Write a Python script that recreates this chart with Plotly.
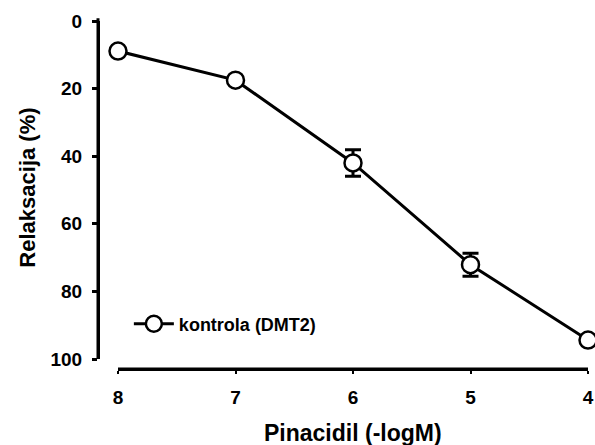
import plotly.graph_objects as go

# Data
concentration = [8, 7, 6, 5, 4]              # Pinacidil (-logM)
relaxation = [8.9, 17.5, 42.0, 72.1, 94.4]   # Relaksacija (%)
sem = [0.5, 0.8, 3.9, 3.4, 0.8]
x_ticks = [8, 7, 6, 5, 4]
y_ticks = [0, 20, 40, 60, 80, 100]
series_name = "kontrola (DMT2)"

FONT = "Arial, Liberation Sans, sans-serif"
X_DOM0 = 20 / 490
Y_DOM0 = 10 / 348

fig = go.Figure()
fig.add_trace(go.Scatter(
    x=concentration, y=relaxation, name=series_name,
    mode="lines+markers",
    line=dict(color="black", width=3),
    marker=dict(symbol="circle", size=17, color="white",
                line=dict(color="black", width=2.5)),
    error_y=dict(type="data", array=sem, visible=True,
                 color="black", thickness=3, width=8),
    cliponaxis=False,
))

fig.update_layout(
    template="none",
    width=595, height=445,
    margin=dict(l=98, r=7, t=21, b=76, autoexpand=False),
    paper_bgcolor="white", plot_bgcolor="white",
    font=dict(family=FONT, color="black"),
    showlegend=True,
    legend=dict(x=0.063, y=0.129, xanchor="left", yanchor="middle",
                bgcolor="rgba(0,0,0,0)", itemwidth=40,
                font=dict(family=FONT, size=18, color="black", weight="bold")),
    xaxis=dict(domain=[X_DOM0, 1], range=[8, 4], anchor="free", position=0,
               tickvals=x_ticks, ticktext=[str(v) for v in x_ticks],
               showline=True, linecolor="black", linewidth=3,
               ticks="outside", ticklen=3, tickwidth=2, tickcolor="black",
               showgrid=False, zeroline=False, automargin=False,
               ticklabelstandoff=7,
               tickfont=dict(family=FONT, size=19, color="black", weight="bold")),
    yaxis=dict(domain=[Y_DOM0, 1], range=[100, 0], anchor="free", position=0,
               tickvals=y_ticks,
               showline=True, linecolor="black", linewidth=3,
               ticks="outside", ticklen=5, tickwidth=2.5, tickcolor="black",
               showgrid=False, zeroline=False, automargin=False,
               ticklabelstandoff=6,
               tickfont=dict(family=FONT, size=19, color="black", weight="bold")),
)

# axis lines reinforced as paper shapes (offset axes as in the reference)
fig.add_shape(type="line", xref="paper", yref="paper", x0=0, x1=0, y0=Y_DOM0, y1=1.008,
              line=dict(color="black", width=3), layer="above")
fig.add_shape(type="line", xref="paper", yref="paper", x0=X_DOM0, x1=1, y0=0, y1=0,
              line=dict(color="black", width=3), layer="above")

# axis titles
fig.add_annotation(text="Pinacidil (-logM)", xref="x", yref="paper", x=6, y=0,
                   yshift=-64, showarrow=False, xanchor="center", yanchor="middle",
                   font=dict(family=FONT, size=23, color="black", weight="bold"))
fig.add_annotation(text="Relaksacija (%)", xref="paper", yref="y", x=0, y=49.3,
                   xshift=-70, textangle=-90, showarrow=False,
                   xanchor="center", yanchor="middle",
                   font=dict(family=FONT, size=22, color="black", weight="bold"))

fig.write_html(
    "out.html",
    config={"displayModeBar": False},
    post_script="document.body.style.margin='0';"
                "document.documentElement.style.overflow='hidden';",
)
